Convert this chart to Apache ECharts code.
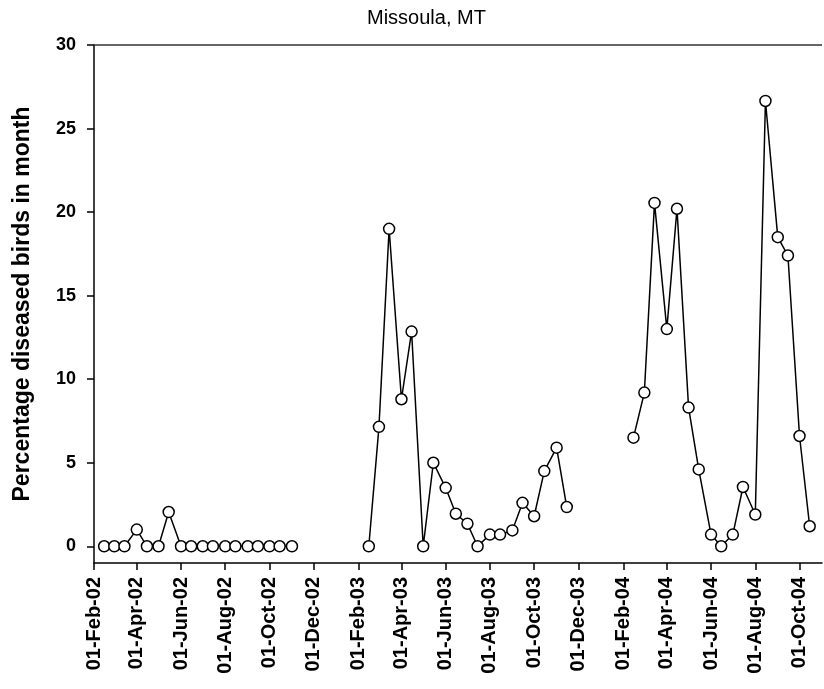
<!DOCTYPE html>
<html><head><meta charset="utf-8">
<script src="https://cdn.jsdelivr.net/npm/echarts@6/dist/echarts.min.js"></script>
<style>html,body{margin:0;padding:0;background:#fff}#c{width:824px;height:689px}</style>
</head><body><div id="c"></div>
<script>
const chartTitle = 'Missoula, MT';
const yAxisName = 'Percentage diseased birds in month';
const xTickDates = ['2002-02-01','2002-04-01','2002-06-01','2002-08-01','2002-10-01','2002-12-01',
  '2003-02-01','2003-04-01','2003-06-01','2003-08-01','2003-10-01','2003-12-01',
  '2004-02-01','2004-04-01','2004-06-01','2004-08-01','2004-10-01'];
const xMinDate = '2002-02-01';
const xMaxDate = '2004-11-01';
const yTickValues = [0,5,10,15,20,25,30];
const monthNames = ['Jan','Feb','Mar','Apr','May','Jun','Jul','Aug','Sep','Oct','Nov','Dec'];

const dates2002 = ['2002-02-15','2002-03-01','2002-03-15','2002-04-01','2002-04-15','2002-05-01','2002-05-15',
  '2002-06-01','2002-06-15','2002-07-01','2002-07-15','2002-08-01','2002-08-15','2002-09-01','2002-09-15',
  '2002-10-01','2002-10-15','2002-11-01'];
const values2002 = [0,0,0,1.0,0,0,2.05,0,0,0,0,0,0,0,0,0,0,0];

const dates2003 = ['2003-02-15','2003-03-01','2003-03-15','2003-04-01','2003-04-15','2003-05-01','2003-05-15',
  '2003-06-01','2003-06-15','2003-07-01','2003-07-15','2003-08-01','2003-08-15','2003-09-01','2003-09-15',
  '2003-10-01','2003-10-15','2003-11-01','2003-11-15'];
const values2003 = [0,7.15,19.0,8.8,12.85,0,5.0,3.5,1.95,1.35,0,0.7,0.7,0.95,2.6,1.8,4.5,5.9,2.35];

const dates2004 = ['2004-02-15','2004-03-01','2004-03-15','2004-04-01','2004-04-15','2004-05-01','2004-05-15',
  '2004-06-01','2004-06-15','2004-07-01','2004-07-15','2004-08-01','2004-08-15','2004-09-01','2004-09-15',
  '2004-10-01','2004-10-15'];
const values2004 = [6.5,9.2,20.55,13.0,20.2,8.3,4.6,0.7,0,0.7,3.55,1.9,26.65,18.5,17.4,6.6,1.2];

const FONT = "'Liberation Sans', Arial, sans-serif";
function ts(s){ const p = s.split('-').map(Number); return Date.UTC(p[0], p[1]-1, p[2]); }
function fmtDate(v){
  const d = new Date(v);
  const dd = String(d.getUTCDate()).padStart(2,'0');
  const yy = String(d.getUTCFullYear() % 100).padStart(2,'0');
  return dd + '-' + monthNames[d.getUTCMonth()] + '-' + yy;
}
function mkSeries(dates, values, withTop){
  const s = {
    type:'line',
    data: dates.map((d,i)=>[ts(d), values[i]]),
    symbol:'circle', symbolSize:11,
    itemStyle:{color:'#fff', borderColor:'#000', borderWidth:1.5},
    lineStyle:{color:'#000', width:1.5},
    emphasis:{disabled:true},
    animation:false
  };
  if (withTop) {
    s.markLine = {silent:true, symbol:['none','none'], label:{show:false},
      lineStyle:{color:'#333', type:'solid', width:1.5}, data:[{yAxis:30}], animation:false};
  }
  return s;
}
const xTicks = xTickDates.map(ts);
const chart = echarts.init(document.getElementById('c'));
chart.setOption({
  backgroundColor:'#fff',
  animation:false,
  title:{text:chartTitle, left:362, top:3, textStyle:{fontFamily:FONT, fontSize:20, fontWeight:'normal', color:'#000'}},
  grid:{left:94, right:2, top:45, bottom:126},
  xAxis:{
    type:'value', min:ts(xMinDate), max:ts(xMaxDate), scale:true,
    axisLine:{onZero:false, lineStyle:{color:'#000', width:1.5}},
    axisTick:{show:true, length:7, lineStyle:{color:'#000', width:1.5}, customValues:xTicks},
    axisLabel:{rotate:90, margin:14, fontFamily:FONT, fontSize:20, fontWeight:'bold', color:'#000',
      customValues:xTicks, formatter:fmtDate},
    splitLine:{show:false}, minorTick:{show:false}
  },
  yAxis:{
    type:'value', min:-1, max:30,
    name:yAxisName, nameLocation:'middle', nameRotate:90, nameGap:60,
    nameTextStyle:{fontFamily:FONT, fontSize:23, fontWeight:'bold', color:'#000'},
    axisLine:{show:true, onZero:false, lineStyle:{color:'#000', width:1.5}},
    axisTick:{show:true, length:7, lineStyle:{color:'#000', width:1.5}, customValues:yTickValues},
    axisLabel:{margin:18, fontFamily:FONT, fontSize:18, fontWeight:'bold', color:'#000', customValues:yTickValues},
    splitLine:{show:false}
  },
  series:[mkSeries(dates2002, values2002, true), mkSeries(dates2003, values2003, false), mkSeries(dates2004, values2004, false)]
});
</script></body></html>
